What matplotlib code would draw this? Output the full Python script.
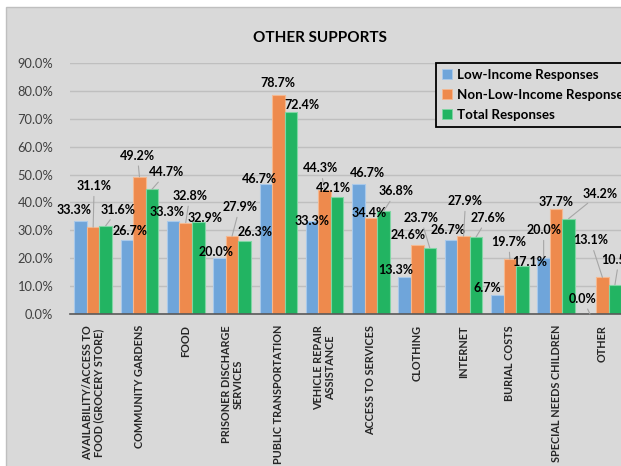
import matplotlib
matplotlib.use('Agg')
import matplotlib.pyplot as plt
import numpy as np
from matplotlib.patches import Rectangle
from matplotlib.lines import Line2D

# ---------------- data ----------------
categories = [
    "AVAILABILITY/ACCESS TO\nFOOD (GROCERY STORE)",
    "COMMUNITY GARDENS",
    "FOOD",
    "PRISONER DISCHARGE\nSERVICES",
    "PUBLIC TRANSPORTATION",
    "VEHICLE REPAIR\nASSISTANCE",
    "ACCESS TO SERVICES",
    "CLOTHING",
    "INTERNET",
    "BURIAL COSTS",
    "SPECIAL NEEDS CHILDREN",
    "OTHER",
]
low_income = [33.3, 26.7, 33.3, 20.0, 46.7, 33.3, 46.7, 13.3, 26.7, 6.7, 20.0, 0.0]
non_low_income = [31.1, 49.2, 32.8, 27.9, 78.7, 44.3, 34.4, 24.6, 27.9, 19.7, 37.7, 13.1]
total = [31.6, 44.7, 32.9, 26.3, 72.4, 42.1, 36.8, 23.7, 27.6, 17.1, 34.2, 10.5]
series_names = ["Low-Income Responses", "Non-Low-Income Responses", "Total Responses"]
y_ticks = [0, 10, 20, 30, 40, 50, 60, 70, 80, 90]
title = "OTHER SUPPORTS"

# ---------------- layout (label offsets in pixels, leader-line flags) ----------------
label_offsets = [
    [(-7, 11), (3, 8.5), (-6, 9.5), (-3, 6), (-6, 5), (0, 0), (9, 11), (-9, 7), (-3, 9.5), (-10, 7), (0, 28), (-7, 15)],
    [(1, 41), (-2, 21), (4, 26.5), (7.6, 29), (0, 12), (-4, 22), (-2, 5), (-8.6, 10), (2, 35), (-1, 17), (0, 7), (-12, 37)],
    [(12, 16), (15, 17), (6.4, 4), (11, 8.6), (11, 7), (-3.5, 8.6), (13, 20), (-9, 30), (11.6, 19), (7, 4), (31, 25), (4, 25)],
]
leaders = [
    [0, 0, 0, 0, 0, 0, 0, 0, 0, 0, 1, 1],
    [1, 1, 1, 1, 0, 1, 0, 0, 1, 1, 0, 1],
    [1, 1, 0, 0, 0, 0, 1, 1, 1, 0, 1, 1],
]
colors = ["#6fa5da", "#ee8a4d", "#22b462"]
edge_colors = ["#a9c9ea", "#f5b890", "#7fd6a3"]

FONT = "Lato"
plt.rcParams['font.family'] = [FONT, 'DejaVu Sans']

W, H = 621, 466
fig = plt.figure(figsize=(W / 100, H / 100), dpi=100, facecolor='white')
bg = Rectangle((5.5 / W, -0.1), 2, (H - 6.5) / H + 0.1, transform=fig.transFigure,
               facecolor='#d9d9d9', edgecolor='#bfbfbf', lw=1.0, zorder=0)
fig.add_artist(bg)

ax = fig.add_axes([70 / W, 1 - 314 / H, 555.6 / W, 251 / H])
ax.set_facecolor('none')
n = len(categories)
x = np.arange(n)
ax.set_xlim(-0.5, n - 0.5)
ax.set_ylim(0, 0.9)

bw = 0.27
series = [low_income, non_low_income, total]
for s, vals in enumerate(series):
    xs = x + (s - 1) * bw
    v = np.array(vals) / 100.0
    ax.bar(xs, v, width=bw, color=colors[s], edgecolor=edge_colors[s], linewidth=0.8, zorder=2)
    for i in range(n):
        dx, dy = label_offsets[s][i]
        ap = dict(arrowstyle='-', color='#a6a6a6', lw=0.8, shrinkA=1, shrinkB=0) if leaders[s][i] else None
        ax.annotate(f"{vals[i]:.1f}%", xy=(xs[i], v[i]), xytext=(dx, dy), textcoords='offset pixels',
                    ha='center', va='center', fontsize=9.0, fontweight='bold', color='black',
                    arrowprops=ap, annotation_clip=False, zorder=4)

ax.set_yticks([t / 100 for t in y_ticks])
ax.set_yticklabels([f"{t:.1f}%" for t in y_ticks], fontsize=9.3, color='#404040')
ax.yaxis.grid(True, color='#bfbfbf', lw=1.0)
ax.set_axisbelow(True)

ax.set_xticks(x)
ax.set_xticklabels(categories, rotation=90, fontsize=7.8, fontweight='bold', color='#262626',
                   ha='center', va='top', multialignment='center', linespacing=1.1)
ax.tick_params(axis='both', length=0)
ax.tick_params(axis='y', pad=12)
ax.tick_params(axis='x', pad=8)
for side in ['left', 'right', 'top']:
    ax.spines[side].set_visible(False)
ax.spines['bottom'].set_color('#595959')
ax.spines['bottom'].set_linewidth(1.2)

fig.text(320 / W, 1 - 38 / H, title, ha='center', va='center', fontsize=11, fontweight='bold', color='black')

handles = [Line2D([], [], marker='s', ls='', markersize=6.5, markerfacecolor=colors[s],
                  markeredgecolor=edge_colors[s], markeredgewidth=0.6) for s in range(3)]
leg = fig.legend(handles, series_names, loc='upper left', bbox_to_anchor=(436 / W, 1 - 63 / H),
                 frameon=True, fancybox=False, edgecolor='black', facecolor='#d9d9d9', framealpha=1,
                 prop=dict(family=FONT, weight='bold', size=9.6), handlelength=0.8,
                 handletextpad=0.3, labelspacing=0.6, borderpad=0.45, borderaxespad=0)
leg.get_frame().set_linewidth(1.3)

fig.savefig('out.png', dpi=100, facecolor='white')
